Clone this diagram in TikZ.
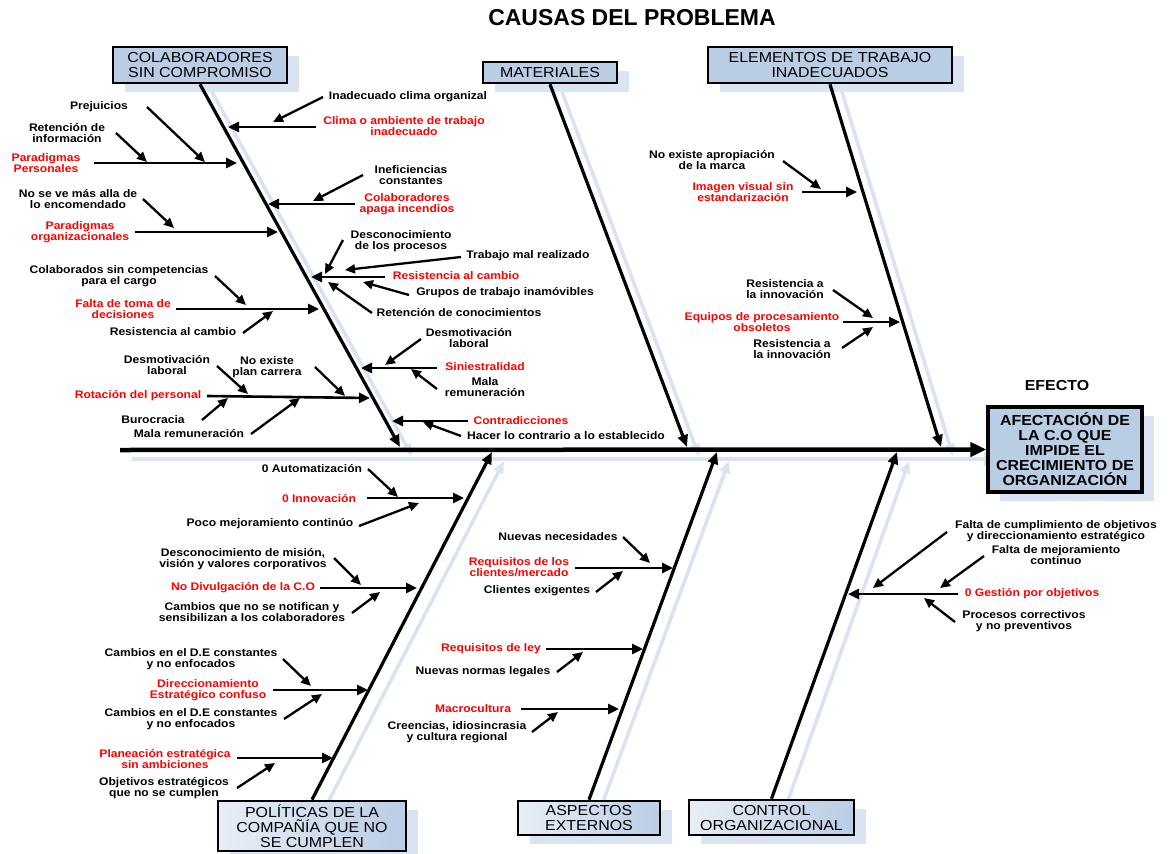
\documentclass[tikz,border=0pt]{standalone}
\usepackage{fontspec}
\setmainfont{Liberation Sans}
\newfontfamily\lab{Liberation Sans}[FakeStretch=1.1]
\usetikzlibrary{arrows.meta}
\definecolor{boxblue}{HTML}{B9CDE5}
\definecolor{shadowblue}{HTML}{D9E3F1}
\definecolor{lightblue}{HTML}{E8EEF7}
\definecolor{labred}{HTML}{FF0000}
\tikzset{
 lbl/.style={font=\lab\bfseries\fontsize{11}{11}\selectfont, align=center, inner sep=0pt},
 rlbl/.style={lbl, text=labred},
 sub/.style={line width=2.3pt, -{Triangle[length=10pt,width=9pt]}},
 mainarr/.style={line width=2.6pt, -{Triangle[length=11pt,width=10pt]}},
 bone/.style={line width=3.2pt, -{Triangle[length=12pt,width=10pt]}},
 shbone/.style={line width=3.6pt, draw=shadowblue, -{Triangle[length=12pt,width=10pt]}},
 hdr/.style={draw=black, line width=2.6pt, fill=boxblue, font=\lab\fontsize{14.5}{15}\selectfont, align=center, inner sep=0pt},
 hdrg/.style={hdr, left color=lightblue, right color=boxblue},
 shbox/.style={fill=shadowblue},
}
\begin{document}
\begin{tikzpicture}[x=1pt,y=-1pt]
\useasboundingbox (0,0) rectangle (1173,854);
% ---------- shadows ----------
\fill[shbox] (125,56) rectangle (299,92);
\fill[shbox] (495,71) rectangle (629,92);
\fill[shbox] (720,56) rectangle (964,92);
\fill[shbox] (230,810) rectangle (418,860);
\fill[shbox] (530,810) rectangle (672,844);
\fill[shbox] (701,809) rectangle (866,844);
\fill[shbox] (1000,416) rectangle (1154,501);
\draw[shbone] (212,92) -- (412,456);
\draw[shbone] (562,92) -- (699,456);
\draw[shbone] (842,92) -- (953,456);
\draw[shbone] (324,810) -- (504,461);
\draw[shbone] (600,810) -- (729,461);
\draw[shbone] (785,809) -- (909,461);
\draw[line width=4.5pt, draw=shadowblue, -{Triangle[length=16pt,width=14pt]}] (132,459) -- (1000,459);
% ---------- title ----------
\node[font=\bfseries\fontsize{23}{23}\selectfont, inner sep=0pt] (title) at (632,18) {CAUSAS DEL PROBLEMA};
\node[font=\lab\bfseries\fontsize{14.5}{15}\selectfont, inner sep=0pt] (efectolbl) at (1057,386) {EFECTO};
% ---------- boxes ----------
\node[hdr, minimum width=174, minimum height=36] (colab) at (200,65) {COLABORADORES\\SIN COMPROMISO};
\node[hdr, minimum width=134, minimum height=21] (mat) at (550,72.5) {MATERIALES};
\node[hdr, minimum width=244, minimum height=36] (elem) at (830,65) {ELEMENTOS DE TRABAJO\\INADECUADOS};
\node[hdrg, minimum width=188, minimum height=50] (pol) at (312,826) {POLÍTICAS DE LA\\COMPAÑÍA QUE NO\\SE CUMPLEN};
\node[hdrg, minimum width=142, minimum height=34] (asp) at (589,818) {ASPECTOS\\EXTERNOS};
\node[hdrg, minimum width=165, minimum height=35] (ctrl) at (771.5,817.5) {CONTROL\\ORGANIZACIONAL};
\node[draw=black, line width=3.2pt, fill=boxblue, minimum width=154, minimum height=85, inner sep=0pt, align=center,
      font=\lab\bfseries\fontsize{14.5}{15}\selectfont] (efecto) at (1065,449.5)
      {AFECTACIÓN DE\\LA C.O QUE\\IMPIDE EL\\CRECIMIENTO DE\\ORGANIZACIÓN};
% ---------- spine and bones ----------
\coordinate (spinestart) at (120,450);
\draw[line width=4.5pt, -{Triangle[length=16pt,width=14pt]}] (spinestart) -- (efecto.west);
\coordinate (jcolab) at (400,447);
\coordinate (jmat) at (687,447);
\coordinate (jelem) at (941,447);
\coordinate (jpol) at (492,452);
\coordinate (jasp) at (717,452);
\coordinate (jctrl) at (897,452);
\draw[bone] (colab.south) -- (jcolab);
\draw[bone] (mat.south) -- (jmat);
\draw[bone] (elem.south) -- (jelem);
\draw[bone] (pol.north) -- (jpol);
\draw[bone] (asp.north) -- (jasp);
\draw[bone] (ctrl.north) -- (jctrl);
% ---------- COLABORADORES labels ----------
\node[lbl] (l1) at (99,107) {Prejuicios};
\node[lbl] (l2) at (67,133) {Retención de\\información};
\node[rlbl] (l3) at (46,163) {Paradigmas\\Personales};
\node[lbl] (l4) at (408,97) {Inadecuado clima organizal};
\node[rlbl] (l5) at (404,126) {Clima o ambiente de trabajo\\inadecuado};
\node[lbl] (l6) at (411,175) {Ineficiencias\\constantes};
\node[rlbl] (l7) at (407,204) {Colaboradores\\apaga incendios};
\node[lbl] (l8) at (78,199) {No se ve más alla de\\lo encomendado};
\node[rlbl] (l9) at (80,232) {Paradigmas\\organizacionales};
\node[lbl] (l10) at (401,241) {Desconocimiento\\de los procesos};
\node[lbl] (l11) at (528,256) {Trabajo mal realizado};
\node[rlbl] (l12) at (456,276) {Resistencia al cambio};
\node[lbl] (l13) at (505,293) {Grupos de trabajo inamóvibles};
\node[lbl] (l14) at (459,313) {Retención de conocimientos};
\node[lbl] (l15) at (119,276) {Colaborados sin competencias\\para el cargo};
\node[rlbl] (l16) at (123,309) {Falta de toma de\\decisiones};
\node[lbl] (l17) at (173,332) {Resistencia al cambio};
\node[lbl] (l18) at (167,365) {Desmotivación\\laboral};
\node[lbl] (l19) at (267,367) {No existe\\plan carrera};
\node[rlbl] (l20) at (138,396) {Rotación del personal};
\node[lbl] (l21) at (153,420) {Burocracia};
\node[lbl] (l22) at (189,434) {Mala remuneración};
\node[lbl] (l23) at (469,338) {Desmotivación\\laboral};
\node[rlbl] (l24) at (485,367) {Siniestralidad};
\node[lbl] (l25) at (485,387) {Mala\\remuneración};
\node[rlbl] (l26) at (521,421) {Contradicciones};
\node[lbl] (l27) at (566,436) {Hacer lo contrario a lo establecido};
\draw[sub] (147,107) -- (205,162);
\draw[sub] (116,133) -- (147,162);
\draw[mainarr] (94,163) -- (237,163);
\draw[sub] (323,97) -- (273,122);
\draw[mainarr] (316,127) -- (228,127);
\draw[sub] (363,175) -- (313,201);
\draw[mainarr] (355,204) -- (268,204);
\draw[sub] (143,199) -- (174,228);
\draw[mainarr] (135,232) -- (278,232);
\draw[sub] (343,240) -- (325,274);
\draw[sub] (461,257) -- (345,270);
\draw[mainarr] (385,277) -- (311,277);
\draw[sub] (409,295) -- (363,282);
\draw[sub] (372,313) -- (328,282);
\draw[sub] (215,276) -- (246,305);
\draw[mainarr] (176,309) -- (319,309);
\draw[sub] (243,333) -- (273,311);
\draw[sub] (217,366) -- (248,394);
\draw[sub] (315,367) -- (345,396);
\draw[mainarr] (207,396) -- (370,398);
\draw[sub] (202,420) -- (228,398);
\draw[sub] (251,434) -- (300,398);
\draw[sub] (421,339) -- (385,365);
\draw[mainarr] (437,368) -- (361,368);
\draw[sub] (437,389) -- (411,369);
\draw[mainarr] (468,421) -- (392,421);
\draw[sub] (461,436) -- (423,422);
% ---------- ELEMENTOS labels ----------
\node[lbl] (e1) at (712,160) {No existe apropiación\\de la marca};
\node[rlbl] (e2) at (743,192) {Imagen visual sin\\estandarización};
\node[lbl] (e3) at (785,289) {Resistencia a\\la innovación};
\node[rlbl] (e4) at (762,322) {Equipos de procesamiento\\obsoletos};
\node[lbl] (e5) at (792,349) {Resistencia a\\la innovación};
\draw[sub] (783,161) -- (821,189);
\draw[mainarr] (802,192) -- (857,192);
\draw[sub] (833,290) -- (873,318);
\draw[mainarr] (843,322) -- (900,322);
\draw[sub] (842,348) -- (873,327);
% ---------- POLITICAS labels ----------
\node[lbl] (p1) at (312,469) {0 Automatización};
\node[rlbl] (p2) at (319,499) {0 Innovación};
\node[lbl] (p3) at (270,524) {Poco mejoramiento continúo};
\node[lbl] (p4) at (243,559) {Desconocimiento de misión,\\visión y valores corporativos};
\node[rlbl] (p5) at (243,588) {No Divulgación de la C.O};
\node[lbl] (p6) at (252,612) {Cambios que no se notifican y\\sensibilizan a los colaboradores};
\node[lbl] (p7) at (191,659) {Cambios en el D.E constantes\\y no enfocados};
\node[rlbl] (p8) at (208,690) {Direccionamiento\\Estratégico confuso};
\node[lbl] (p9) at (191,719) {Cambios en el D.E constantes\\y no enfocados};
\node[rlbl] (p10) at (165,759) {Planeación estratégica\\sin ambiciones};
\node[lbl] (p11) at (164,788) {Objetivos estratégicos\\que no se cumplen};
\draw[sub] (368,469) -- (398,497);
\draw[mainarr] (367,498) -- (464,498);
\draw[sub] (359,526) -- (419,503);
\draw[sub] (334,558) -- (361,585);
\draw[mainarr] (320,588) -- (417,588);
\draw[sub] (352,613) -- (380,592);
\draw[sub] (283,659) -- (311,686);
\draw[mainarr] (273,690) -- (368,690);
\draw[sub] (284,719) -- (322,694);
\draw[mainarr] (237,758) -- (333,758);
\draw[sub] (237,788) -- (275,763);
% ---------- ASPECTOS labels ----------
\node[lbl] (a1) at (558,537) {Nuevas necesidades};
\node[rlbl] (a2) at (519,567) {Requisitos de los\\clientes/mercado};
\node[lbl] (a3) at (537,591) {Clientes exigentes};
\node[rlbl] (a4) at (491,649) {Requisitos de ley};
\node[lbl] (a5) at (483,672) {Nuevas normas legales};
\node[rlbl] (a6) at (473,709) {Macrocultura};
\node[lbl] (a7) at (457,732) {Creencias, idiosincrasia\\y cultura regional};
\draw[sub] (623,537) -- (650,563);
\draw[mainarr] (575,568) -- (673,568);
\draw[sub] (596,592) -- (623,571);
\draw[mainarr] (546,649) -- (643,649);
\draw[sub] (557,672) -- (583,652);
\draw[mainarr] (521,709) -- (619,709);
\draw[sub] (532,732) -- (558,712);
% ---------- CONTROL labels ----------
\node[lbl] (c1) at (1056,531) {Falta de cumplimiento de objetivos\\y direccionamiento estratégico};
\node[lbl] (c2) at (1056,555) {Falta de mejoramiento\\continuo};
\node[rlbl] (c3) at (1032,594) {0 Gestión por objetivos};
\node[lbl] (c4) at (1024,621) {Procesos correctivos\\y no preventivos};
\draw[mainarr] (958,594) -- (848,594);
\draw[sub] (947,532) -- (873,588);
\draw[sub] (984,556) -- (940,588);
\draw[sub] (955,622) -- (924,598);
\end{tikzpicture}
\end{document}
